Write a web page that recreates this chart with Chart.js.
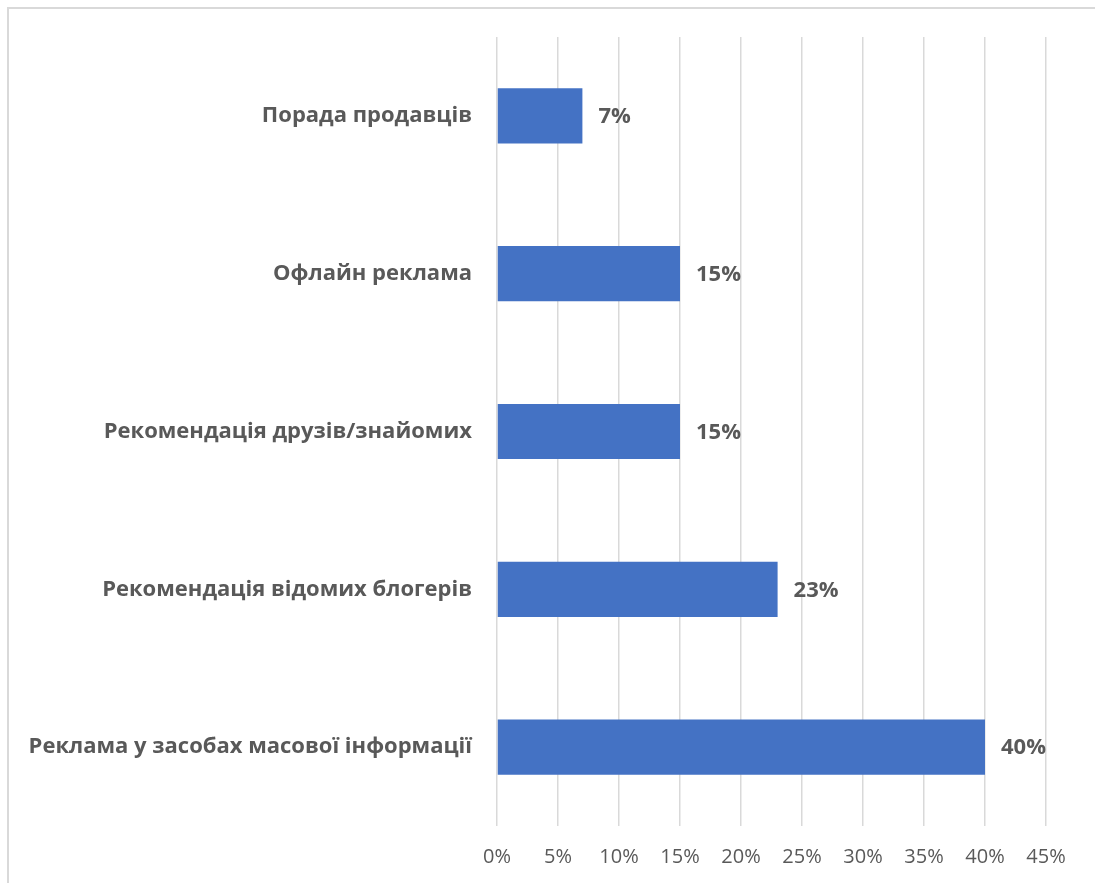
<!DOCTYPE html>
<html>
<head>
<meta charset="utf-8">
<script src="https://cdn.jsdelivr.net/npm/chart.js@4"></script>
<style>
    html, body { margin: 0; padding: 0; background: #fff; }
    #wrap { position: relative; width: 1095px; height: 883px; }
    #frame {
        position: absolute; left: 7px; top: 7px; right: 0; bottom: 0;
        border-top: 2px solid #d9d9d9; border-left: 2px solid #d9d9d9;
        pointer-events: none;
    }
</style>
</head>
<body>
<div id="wrap">
    <canvas id="grafico" width="1095" height="883"></canvas>
    <div id="frame"></div>
</div>
<script>
const categorias = [
    "Порада продавців",
    "Офлайн реклама",
    "Рекомендація друзів/знайомих",
    "Рекомендація відомих блогерів",
    "Реклама у засобах масової інформації"
];
const valores = [7, 15, 15, 23, 40];
const ticksX = [0, 5, 10, 15, 20, 25, 30, 35, 40, 45];

const corTexto = "#595959";

// rótulos no fim das barras
const rotulosBarras = {
    id: "rotulosBarras",
    afterDatasetsDraw(chart) {
        const ctx = chart.ctx;
        const meta = chart.getDatasetMeta(0);
        ctx.save();
        ctx.font = "bold 22px 'Open Sans'";
        ctx.fillStyle = corTexto;
        ctx.textAlign = "left";
        ctx.textBaseline = "middle";
        meta.data.forEach((bar, i) => {
            ctx.fillText(valores[i] + "%", bar.x + 16, bar.y + 1);
        });
        ctx.restore();
    }
};

new Chart(document.getElementById("grafico").getContext("2d"), {
    type: "bar",
    data: {
        labels: categorias,
        datasets: [{
            data: valores,
            backgroundColor: "#4472c4",
            barPercentage: 0.35,
            categoryPercentage: 1.0
        }]
    },
    options: {
        indexAxis: "y",
        responsive: false,
        animation: false,
        layout: { padding: { top: 37, right: 49, left: 0, bottom: 0 } },
        plugins: {
            legend: { display: false },
            tooltip: { enabled: false }
        },
        scales: {
            x: {
                min: 0,
                max: 45,
                afterBuildTicks: scale => {
                    scale.ticks = ticksX.map(v => ({ value: v }));
                },
                afterFit: scale => { scale.height = 57; },
                grid: { color: "#d9d9d9", lineWidth: 1.5, drawTicks: false },
                border: { display: false },
                ticks: {
                    padding: 19,
                    color: corTexto,
                    font: { family: "'Open Sans'", size: 20 },
                    callback: v => v + "%"
                }
            },
            y: {
                afterFit: scale => { scale.width = 497; },
                grid: { display: false },
                border: { display: false },
                ticks: {
                    padding: 17,
                    color: corTexto,
                    font: { family: "'Open Sans'", size: 22, weight: "bold" }
                }
            }
        }
    },
    plugins: [rotulosBarras]
});
</script>
</body>
</html>
